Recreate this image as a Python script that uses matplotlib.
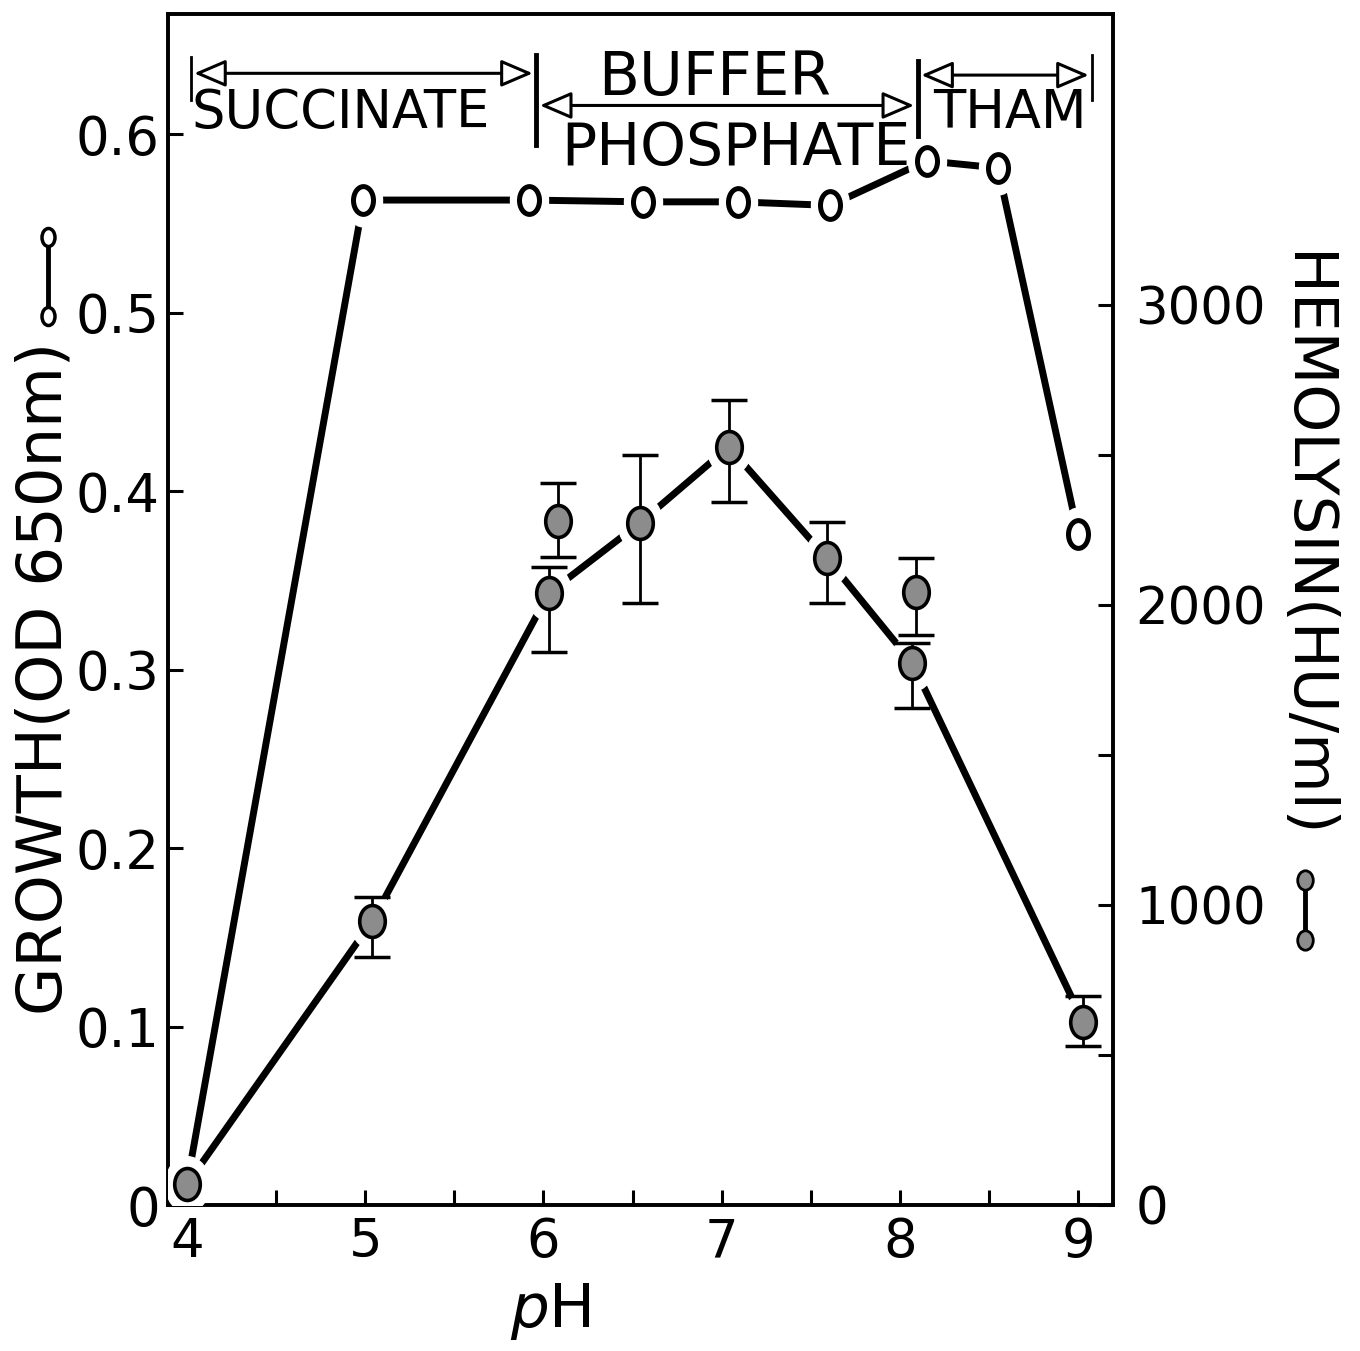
import matplotlib
matplotlib.use("Agg")
import matplotlib.pyplot as plt
import matplotlib.path as mpath
from matplotlib.lines import Line2D

# growth (open circles, left axis)
growth_ph = [4.0, 4.99, 5.92, 6.56, 7.09, 7.61, 8.15, 8.55, 9.0]
growth_od = [0.012, 0.563, 0.563, 0.562, 0.562, 0.560, 0.585, 0.581, 0.376]

# hemolysin (filled circles, right axis), connected points
hemo_ph = [4.0, 5.04, 6.03, 6.54, 7.04, 7.59, 8.07, 9.03]
hemo_hu = [70, 947, 2040, 2273, 2527, 2157, 1807, 610]
hemo_err_lo = [0, 120, 197, 266, 184, 150, 150, 80]
hemo_err_hi = [0, 80, 87, 227, 156, 120, 66, 87]

# second measurement at the buffer overlaps (not connected)
extra_ph = [6.08, 8.09]
extra_hu = [2280, 2043]
extra_err_lo = [120, 143]
extra_err_hi = [127, 114]

# buffer ranges
buffer_names = ["SUCCINATE", "PHOSPHATE", "THAM"]
buffer_edges = [4.02, 5.96, 8.10, 9.08]

x_ticks = [4, 5, 6, 7, 8, 9]
x_minor = [4.5, 5.5, 6.5, 7.5, 8.5]
left_ticks = [0, 0.1, 0.2, 0.3, 0.4, 0.5, 0.6]
left_labels = ["0", "0.1", "0.2", "0.3", "0.4", "0.5", "0.6"]
right_ticks = [0, 1000, 2000, 3000]
right_minor = [500, 1500, 2500]

circ = mpath.Path.unit_circle()
oval = mpath.Path(circ.vertices * [0.72, 1.0], circ.codes)
oval2 = mpath.Path(circ.vertices * [0.8, 1.0], circ.codes)

fig = plt.figure(figsize=(13.6, 13.51), dpi=100)
ax = fig.add_axes([0.1235, 0.108, 0.6949, 0.8816])
ax2 = ax.twinx()

ax.set_xlim(3.893, 9.196)
ax.set_ylim(0, 0.6672)
ax2.set_ylim(0, 3970)

# growth curve
ax.plot(growth_ph, growth_od, color="k", lw=5, solid_capstyle="round", zorder=2)
ax.plot(growth_ph, growth_od, ls="none", marker=oval, ms=38, mfc="w", mec="w", zorder=3)
ax.plot(growth_ph, growth_od, ls="none", marker=oval, ms=20, mfc="w", mec="k", mew=3.6, zorder=4)

# hemolysin curve
ax2.plot(hemo_ph, hemo_hu, color="k", lw=5, solid_capstyle="round", zorder=2)
ax2.plot(hemo_ph + extra_ph, hemo_hu + extra_hu, ls="none", marker=oval2, ms=40,
         mfc="w", mec="w", zorder=3)
ax2.errorbar(hemo_ph[1:], hemo_hu[1:], yerr=[hemo_err_lo[1:], hemo_err_hi[1:]], fmt="none",
             ecolor="k", elinewidth=2, capsize=13, capthick=2.5, zorder=4)
ax2.errorbar(extra_ph, extra_hu, yerr=[extra_err_lo, extra_err_hi], fmt="none",
             ecolor="k", elinewidth=2, capsize=13, capthick=2.5, zorder=4)
ax2.plot(hemo_ph + extra_ph, hemo_hu + extra_hu, ls="none", marker=oval2, ms=23,
         mfc="0.55", mec="k", mew=2.6, zorder=5)

# axes styling
for a in (ax, ax2):
    for s in a.spines.values():
        s.set_linewidth(2.6)
ax.set_xticks(x_ticks)
ax.set_xticks(x_minor, minor=True)
ax.set_xticklabels([str(t) for t in x_ticks], fontsize=38)
ax.set_yticks(left_ticks)
ax.set_yticklabels(left_labels, fontsize=38)
ax.tick_params(axis="x", which="both", direction="in", length=11, width=2.2, pad=8)
ax.tick_params(axis="y", direction="in", length=11, width=2.2, pad=6)
ax2.set_yticks(right_ticks)
ax2.set_yticks(right_minor, minor=True)
ax2.set_yticklabels([str(t) for t in right_ticks], fontsize=37)
ax2.tick_params(axis="y", which="both", direction="in", length=11, width=2.2, pad=16)

# buffer annotations
bar_tops = [0.643, 0.644, 0.641, 0.644]
bar_bottoms = [0.619, 0.594, 0.599, 0.619]
bar_widths = [2, 3.5, 3.5, 2]
for xb, y0, y1, w in zip(buffer_edges, bar_bottoms, bar_tops, bar_widths):
    ax.plot([xb, xb], [y0, y1], color="k", lw=w, clip_on=False, zorder=6)

arrow_y = [0.634, 0.616, 0.633]
for i, y in enumerate(arrow_y):
    ax.annotate("", xy=(buffer_edges[i + 1] - 0.02, y), xytext=(buffer_edges[i] + 0.02, y),
                arrowprops=dict(arrowstyle="<|-|>,head_length=0.7,head_width=0.3",
                                ec="k", fc="w", lw=2.2, shrinkA=0, shrinkB=0,
                                mutation_scale=28), zorder=6)

ax.text(4.86, 0.612, buffer_names[0], fontsize=38, ha="center", va="center")
ax.text(6.96, 0.631, "BUFFER", fontsize=43, ha="center", va="center")
ax.text(7.08, 0.592, buffer_names[1], fontsize=42, ha="center", va="center")
ax.text(8.62, 0.612, buffer_names[2], fontsize=38, ha="center", va="center")

# axis labels
fig.text(45 / 1360, 1 - 678 / 1351, "GROWTH(OD 650nm)", rotation=90,
         fontsize=45, ha="center", va="center")
fig.text(1305 / 1360, 1 - 545 / 1351, "HEMOLYSIN(HU/ml)", rotation=-90,
         fontsize=44, ha="center", va="center")
fig.text(550 / 1360, 1 - 1312 / 1351, r"$\mathit{p}$H", fontsize=44,
         ha="center", va="center")

# legend glyphs next to the axis labels
fig.add_artist(Line2D([48 / 1360, 48 / 1360], [1 - 237 / 1351, 1 - 316 / 1351],
                      transform=fig.transFigure, color="k", lw=3.5, marker=oval,
                      ms=13, mfc="w", mec="k", mew=2.5))
fig.add_artist(Line2D([1305 / 1360, 1305 / 1360], [1 - 880 / 1351, 1 - 940 / 1351],
                      transform=fig.transFigure, color="k", lw=3.5, marker=oval2,
                      ms=14, mfc="0.55", mec="k", mew=2))

fig.savefig("out.png", dpi=100)
